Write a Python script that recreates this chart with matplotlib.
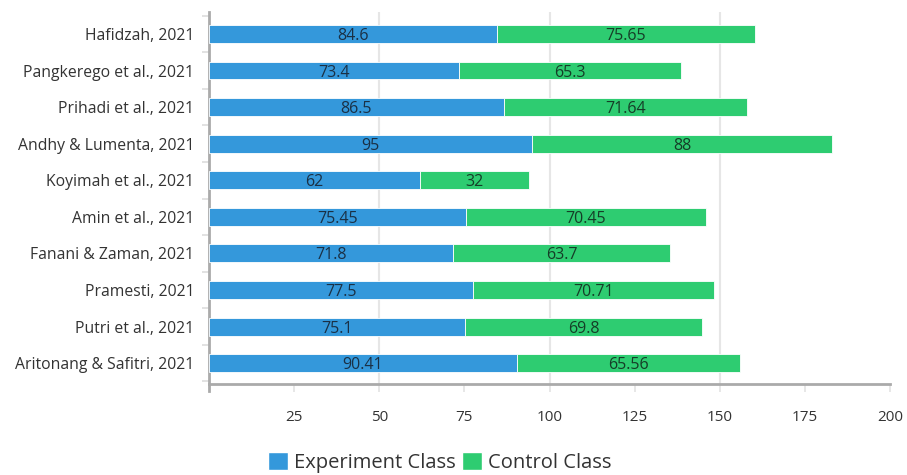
import matplotlib
matplotlib.use('Agg')
import matplotlib.pyplot as plt
from matplotlib.patches import Patch

plt.rcParams['font.family'] = ['Open Sans', 'DejaVu Sans']

# studies, listed bottom to top
studies = ['Aritonang & Safitri, 2021', 'Putri et al., 2021', 'Pramesti, 2021',
           'Fanani & Zaman, 2021', 'Amin et al., 2021', 'Koyimah et al., 2021',
           'Andhy & Lumenta, 2021', 'Prihadi et al., 2021',
           'Pangkerego et al., 2021', 'Hafidzah, 2021']
experiment = [90.41, 75.1, 77.5, 71.8, 75.45, 62, 95, 86.5, 73.4, 84.6]
control = [65.56, 69.8, 70.71, 63.7, 70.45, 32, 88, 71.64, 65.3, 75.65]

blue = '#3498db'
green = '#2ecc71'

fig = plt.figure(figsize=(9.07, 4.75), dpi=100)
ax = fig.add_axes([209 / 907, 1 - 384 / 475, (890 - 209) / 907, (384 - 12) / 475])

y = list(range(len(studies)))
ax.barh(y, experiment, height=0.49, color=blue, edgecolor='white', linewidth=0.6, zorder=3)
ax.barh(y, control, left=experiment, height=0.49, color=green, edgecolor='white', linewidth=0.6, zorder=3)

# value labels in the middle of each segment
for i in y:
    ax.text(experiment[i] / 2, i, f'{experiment[i]:g}', ha='center', va='center_baseline',
            fontsize=11.5, color='#1a3045', zorder=4)
    ax.text(experiment[i] + control[i] / 2, i, f'{control[i]:g}', ha='center',
            va='center_baseline', fontsize=11.5, color='#153d27', zorder=4)

ax.set_xlim(0, 200)
ax.set_ylim(-0.57, len(studies) - 0.4)
ax.set_xticks([25, 50, 75, 100, 125, 150, 175, 200])
for v in [50, 100, 150]:
    ax.axvline(v, color='#e6e6e6', linewidth=1.5, zorder=1)

ax.set_yticks(y)
ax.set_yticklabels(studies, fontsize=11.3, color='#333333')
ax.set_yticks([i - 0.5 for i in y] + [len(studies) - 0.5], minor=True)
ax.tick_params(axis='y', which='major', length=0, pad=10.5)
ax.tick_params(axis='y', which='minor', length=5, color='#dddddd', width=1.2)
ax.tick_params(axis='x', which='major', length=6, color='#e3e3e3', width=1.2,
               labelsize=11, labelcolor='#333333', pad=13)

for side in ['top', 'right']:
    ax.spines[side].set_visible(False)
ax.spines['left'].set_color('#aaaaaa')
ax.spines['left'].set_linewidth(2)
ax.spines['bottom'].set_color('#aaaaaa')
ax.spines['bottom'].set_linewidth(2)
ax.spines['left'].set_bounds(-0.77, len(studies) - 0.4)

handles = [Patch(facecolor=blue, edgecolor='white', label='Experiment Class'),
           Patch(facecolor=green, edgecolor='white', label='Control Class')]
fig.legend(handles=handles, loc='center', bbox_to_anchor=(0.485, 0.027), ncol=2,
           frameon=False, fontsize=14.5, handlelength=1.0, handleheight=1.0,
           handletextpad=0.3, columnspacing=0.3, labelcolor='#333333')

fig.savefig('out.png', dpi=100)
